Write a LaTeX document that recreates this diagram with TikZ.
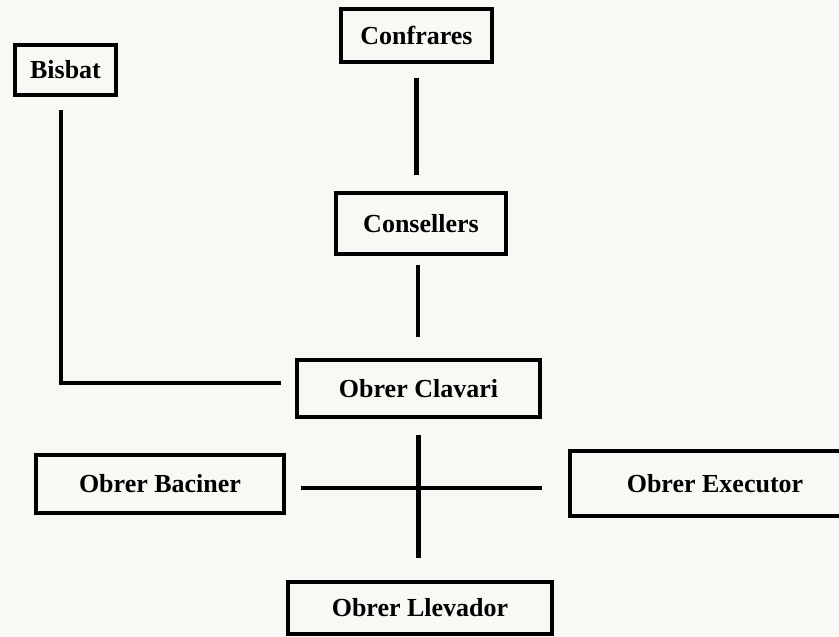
\documentclass[tikz,border=0pt]{standalone}
\usepackage{fontspec}
\setmainfont{Liberation Serif}
\definecolor{bgcol}{RGB}{249,248,244}
\tikzset{every picture/.style={x=1pt,y=-1pt}}
\tikzset{box/.style={draw,line width=4,inner sep=0,font=\fontsize{26}{30}\selectfont\bfseries}}
\tikzset{link/.style={line width=4.5}}
\begin{document}
\begin{tikzpicture}
\useasboundingbox (0,0) rectangle (839,637);
\clip (0,0) rectangle (839,637);
\fill [bgcol] (0,0) rectangle (839,637);
\node [box,minimum width=101,minimum height=50] (bisbat) at (65.5,70) {Bisbat};
\node [box,minimum width=151,minimum height=53] (confrares) at (416.5,35.5) {Confrares};
\node [box,minimum width=170,minimum height=61] (consellers) at (421,223.5) {Consellers};
\node [box,minimum width=243,minimum height=57] (clavari) at (418.5,388.5) {Obrer Clavari};
\node [box,minimum width=248,minimum height=58] (baciner) at (160,484) {Obrer Baciner};
\node [box,minimum width=290,minimum height=65] (executor) at (715,483.5) {Obrer Executor};
\node [box,minimum width=264,minimum height=52] (llevador) at (420,608) {Obrer Llevador};
\draw [link,shorten <=14,shorten >=16] (confrares.south) -- (confrares.south |- consellers.north);
\draw [link,shorten <=9,shorten >=21] ([xshift=-3]consellers.south) -- ([xshift=-3]consellers.south |- clavari.north);
\draw [link,shorten <=13,shorten >=14] ([xshift=-4.5]bisbat.south) |- ([yshift=5.5]clavari.west);
\draw [link,shorten <=16,shorten >=22] (clavari.south) -- (clavari.south |- llevador.north);
\draw [link,shorten <=15,shorten >=26] ([yshift=-4]baciner.east) -- ([yshift=-4]baciner.east -| executor.west);
\end{tikzpicture}
\end{document}
